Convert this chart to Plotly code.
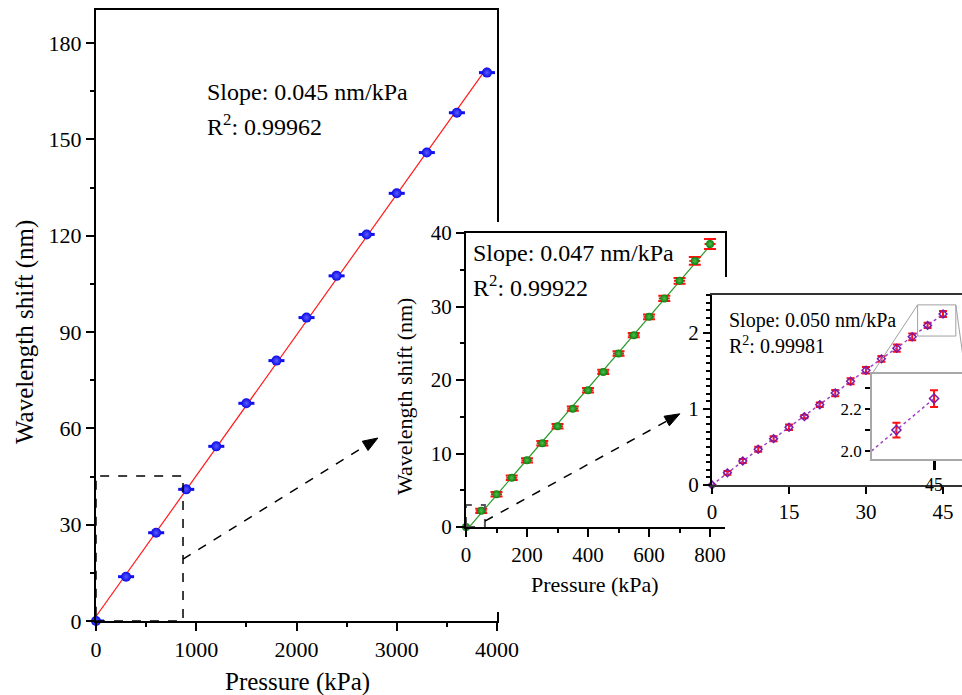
import numpy as np
import plotly.graph_objects as go

FIG_W, FIG_H = 962, 695
FONT = "Liberation Serif"

# ---- data -------------------------------------------------------------
# full pressure range
p_full = [0, 300, 600, 900, 1200, 1500, 1800, 2100, 2400, 2700, 3000, 3300, 3600, 3900]
shift_full = [0.0, 13.8, 27.5, 41.0, 54.4, 67.8, 81.1, 94.5, 107.5, 120.4, 133.2, 145.9, 158.3, 170.8]
p_full_err = [80] * len(p_full)

# 0-800 kPa
p_mid = [0, 50, 100, 150, 200, 250, 300, 350, 400, 450, 500, 550, 600, 650, 700, 750, 800]
shift_mid = [0.0, 2.2, 4.45, 6.7, 9.07, 11.4, 13.7, 16.1, 18.6, 21.1, 23.6, 26.1, 28.6, 31.1, 33.5, 36.2, 38.5]
shift_mid_err = [0.0, 0.3, 0.3, 0.3, 0.3, 0.3, 0.3, 0.3, 0.3, 0.3, 0.3, 0.3, 0.32, 0.35, 0.39, 0.52, 0.68]
p_mid_err = [0] + [18] * 16

# 0-45 kPa
p_low = [0, 3, 6, 9, 12, 15, 18, 21, 24, 27, 30, 33, 36, 39, 42, 45]
shift_low = [0.0, 0.16, 0.315, 0.47, 0.61, 0.76, 0.90, 1.055, 1.21, 1.365, 1.51, 1.66, 1.80, 1.95, 2.10, 2.25]
shift_low_err = [0.0, 0.024, 0.026, 0.033, 0.033, 0.037, 0.022, 0.03, 0.041, 0.039, 0.044, 0.037, 0.048,
                 0.044, 0.035, 0.04]

slope_text = ["Slope: 0.045 nm/kPa", "Slope: 0.047 nm/kPa", "Slope: 0.050 nm/kPa"]
r2_text = ["R<sup>2</sup>: 0.99962", "R<sup>2</sup>: 0.99922", "R<sup>2</sup>: 0.99981"]

# zoomed regions marked on each panel
box_full = (868, 45.2)
box_mid = (62, 3.0)
zoom_x = (40.05, 47.5)
zoom_y = (1.96, 2.37)

# ---- panel geometry (pixels: left, right, top, bottom) ------------------
PANELS = {
    "main": dict(box=(96, 497, 10, 621), xr=(0, 4000), yr=(0, 190.3)),
    "mid": dict(box=(466, 725, 233, 527), xr=(0, 849), yr=(0, 40)),
    "low": dict(box=(712, 962, 295, 485), xr=(0, 48.7), yr=(0, 2.5)),
    "tiny": dict(box=(872, 962, 374, 459), xr=(40.05, 47.23), yr=(1.962, 2.367)),
}


def px(panel, x, y):
    l, r, t, b = PANELS[panel]["box"]
    x0, x1 = PANELS[panel]["xr"]
    y0, y1 = PANELS[panel]["yr"]
    return l + (x - x0) / (x1 - x0) * (r - l), b - (y - y0) / (y1 - y0) * (b - t)


def paper(X, Y):
    return X / FIG_W, 1 - Y / FIG_H


def domains(panel):
    l, r, t, b = PANELS[panel]["box"]
    return [l / FIG_W, min(r / FIG_W, 1.0)], [1 - b / FIG_H, 1 - t / FIG_H]


def fit_line(x, y):
    k, c = np.polyfit(x, y, 1)
    xs = np.array([0, max(x)])
    return xs, k * xs + c


fig = go.Figure()

# full range
fx, fy = fit_line(p_full, shift_full)
fig.add_trace(go.Scatter(x=fx, y=fy, mode="lines", line=dict(color="#ff1a1a", width=1.2),
                         xaxis="x", yaxis="y", hoverinfo="skip"))
fig.add_trace(go.Scatter(
    x=p_full, y=shift_full, mode="markers", xaxis="x", yaxis="y", cliponaxis=False,
    marker=dict(color="#0a0ae6", size=10, gradient=dict(type="radial", color="#5c5cff")),
    error_x=dict(type="data", array=p_full_err, color="#1010ee", thickness=3, width=0)))

# 0-800 kPa
mx, my = fit_line(p_mid, shift_mid)
fig.add_trace(go.Scatter(x=mx, y=my, mode="lines", line=dict(color="#2a9a2a", width=1.2),
                         xaxis="x2", yaxis="y2", hoverinfo="skip"))
fig.add_trace(go.Scatter(
    x=p_mid, y=shift_mid, mode="markers", xaxis="x2", yaxis="y2", cliponaxis=False,
    marker=dict(color="#0c800c", size=8, gradient=dict(type="radial", color="#4fbf4f")),
    error_y=dict(type="data", array=shift_mid_err, color="#ff1010", thickness=2, width=6),
    error_x=dict(type="data", array=p_mid_err, color="#ff1010", thickness=2, width=0)))

# 0-45 kPa and its magnified corner
for xa, ya, size in (("x3", "y3", 6), ("x4", "y4", 7)):
    fig.add_trace(go.Scatter(
        x=p_low, y=shift_low, mode="lines+markers", xaxis=xa, yaxis=ya,
        cliponaxis=(xa == "x4"),
        line=dict(color="#a040c8", width=1.5, dash="dot"),
        marker=dict(symbol="diamond-open", size=size, color="#7a1aa8", line=dict(width=1.5)),
        error_y=dict(type="data", array=shift_low_err, color="#ff1010", thickness=2, width=4)))


def axis(panel, which, tick_size, **kw):
    xd, yd = domains(panel)
    base = dict(showgrid=False, zeroline=False, showline=True, linecolor="black", linewidth=2,
                ticks="outside", tickcolor="black", tickwidth=2, ticklen=8,
                tickfont=dict(family=FONT, size=tick_size, color="black"),
                domain=xd if which == "x" else yd, automargin=False,
                range=list(PANELS[panel]["xr" if which == "x" else "yr"]))
    base.update(kw)
    return base


minor = lambda d, n=4: dict(dtick=d, ticklen=n, tickwidth=2, tickcolor="black", ticks="outside", showgrid=False)

fig.update_layout(
    width=FIG_W, height=FIG_H, margin=dict(l=0, r=0, t=0, b=0, pad=0, autoexpand=False),
    autosize=False, paper_bgcolor="white", plot_bgcolor="white", showlegend=False,
    font=dict(family=FONT, color="black"),
    xaxis=axis("main", "x", 22, anchor="y", dtick=1000, tick0=0, minor=minor(500), mirror=True),
    yaxis=axis("main", "y", 22, anchor="x", dtick=30, tick0=0, minor=minor(15)),
    xaxis2=axis("mid", "x", 21, anchor="y2", dtick=200, tick0=0, minor=minor(100), mirror=True),
    yaxis2=axis("mid", "y", 21, anchor="x2", dtick=10, tick0=0, minor=minor(5)),
    xaxis3=axis("low", "x", 21, anchor="y3", dtick=15, tick0=0, ticklen=7, linecolor="#333333",
                mirror=True),
    yaxis3=axis("low", "y", 21, anchor="x3", dtick=1, tick0=0, ticklen=7, minor=minor(0.1, 4)),
    xaxis4=axis("tiny", "x", 18, anchor="y4", tickvals=[45], ticklen=9, tickwidth=3,
                linecolor="#a8a8a8", linewidth=1.5, mirror=True),
    yaxis4=axis("tiny", "y", 17, anchor="x4", tickvals=[2.0, 2.2], ticktext=["2.0", "2.2"],
                ticklen=5, linecolor="#a8a8a8", linewidth=1.5, mirror=True,
                minor=dict(tickvals=[2.1, 2.3], ticklen=5, tickwidth=2, tickcolor="black",
                           ticks="outside", showgrid=False)),
)

shapes = []


def pline(a, b, **line):
    (x0, y0), (x1, y1) = paper(*a), paper(*b)
    shapes.append(dict(type="line", xref="paper", yref="paper", x0=x0, y0=y0, x1=x1, y1=y1,
                       line=line, layer="above"))


# right-hand frame segments that stay visible around the insets
ml, mr, mt, mb = PANELS["main"]["box"]
pline((mr + 1, mt - 2), (mr + 1, 222), color="black", width=2)
pline((mr + 1, 612), (mr + 1, mb + 2), color="black", width=2)
il, ir, it, ib = PANELS["mid"]["box"]
pline((ir + 1, it - 2), (ir + 1, 277), color="black", width=2)

# dashed zoom boxes
shapes.append(dict(type="rect", xref="x", yref="y", x0=0, y0=0, x1=box_full[0], y1=box_full[1],
                   line=dict(color="black", width=1.5, dash="dash"), layer="above"))
shapes.append(dict(type="rect", xref="x2", yref="y2", x0=0, y0=0, x1=box_mid[0], y1=box_mid[1],
                   line=dict(color="#555555", width=2, dash="dash"), layer="above"))
# magnified region on the 0-45 kPa panel, with connector lines
shapes.append(dict(type="rect", xref="x3", yref="y3", x0=zoom_x[0], y0=zoom_y[0], x1=zoom_x[1],
                   y1=zoom_y[1], line=dict(color="#a0a0a0", width=1), layer="above"))
pline(px("low", zoom_x[0], zoom_y[1]), px("tiny", zoom_x[0], PANELS["tiny"]["yr"][1]),
      color="#a0a0a0", width=1)
pline(px("low", zoom_x[1], zoom_y[1]), px("tiny", zoom_x[1], PANELS["tiny"]["yr"][1]),
      color="#a0a0a0", width=1)


def arrow(tail, head, length=15, half=5.5):
    tail, head = np.array(tail, float), np.array(head, float)
    u = (head - tail) / np.hypot(*(head - tail))
    n = np.array([-u[1], u[0]])
    base = head - u * length
    pline(tail, base + u * 2, color="black", width=1.5, dash="dash")
    pts = [paper(*p) for p in (head, base + n * half, base - n * half)]
    path = "M {} {} L {} {} L {} {} Z".format(*[c for p in pts for c in p])
    shapes.append(dict(type="path", xref="paper", yref="paper", path=path,
                       fillcolor="black", line=dict(color="black", width=1), layer="above"))


arrow(px("main", box_full[0], 19.3), px("main", 2812, 57))
arrow(px("mid", box_mid[0], 0.8), px("mid", 701, 15.4))

annotations = []


def label(X, Y, text, size, angle=0, xanchor="center"):
    x, y = paper(X, Y)
    annotations.append(dict(xref="paper", yref="paper", x=x, y=y, text=text, showarrow=False,
                            textangle=angle, xanchor=xanchor, yanchor="middle",
                            font=dict(family=FONT, size=size, color="black")))


label(297, 682, "Pressure (kPa)", 25)
label(25, 332, "Wavelength shift (nm)", 25, angle=-90)
label(595, 584, "Pressure (kPa)", 22)
label(404, 397, "Wavelength shift (nm)", 22, angle=-90)

label(205, 92, slope_text[0], 24, xanchor="left")
label(205, 125, r2_text[0], 24, xanchor="left")
label(471, 253, slope_text[1], 24, xanchor="left")
label(471, 286, r2_text[1], 24, xanchor="left")
label(727, 320, slope_text[2], 20, xanchor="left")
label(727, 345, r2_text[2], 20, xanchor="left")

fig.update_layout(shapes=shapes, annotations=annotations)
fig.write_html("out.html")
